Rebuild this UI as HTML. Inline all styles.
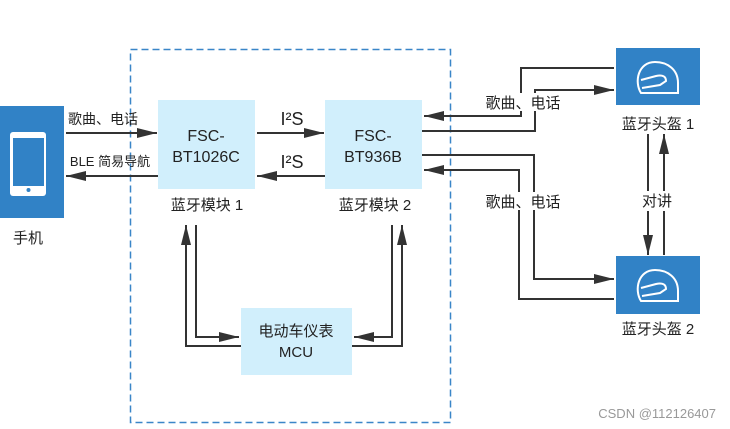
<!DOCTYPE html>
<html><head><meta charset="utf-8"><style>
html,body{margin:0;padding:0;background:#fff;}
svg{display:block;}
text{font-family:"Liberation Sans","Noto Sans CJK SC",sans-serif;fill:#222;}
</style></head><body>
<svg width="730" height="429" viewBox="0 0 730 429" xmlns="http://www.w3.org/2000/svg">
<defs>
<marker id="b" markerWidth="20" markerHeight="10" refX="20" refY="5" orient="auto" markerUnits="userSpaceOnUse">
<path d="M0,0 L20,5 L0,10 z" fill="#333"/></marker>
</defs>
<rect x="130.5" y="49.5" width="320" height="373" fill="none" stroke="#3a86c8" stroke-width="1.5" stroke-dasharray="7,4"/>
<rect x="0" y="106" width="64" height="112" fill="#3182c6"/>
<rect x="10" y="132" width="36" height="64" rx="3" fill="#fff"/>
<rect x="13" y="138" width="31" height="48" fill="#3182c6"/>
<circle cx="28.5" cy="190" r="2" fill="#3182c6"/>
<text x="28" y="243" font-size="15" text-anchor="middle">手机</text>
<rect x="158" y="100" width="97" height="89" fill="#d1effc"/>
<text x="206" y="141" font-size="16" text-anchor="middle">FSC-</text>
<text x="206" y="162" font-size="16" text-anchor="middle">BT1026C</text>
<text x="207" y="210" font-size="15" text-anchor="middle">蓝牙模块 1</text>
<rect x="325" y="100" width="97" height="89" fill="#d1effc"/>
<text x="373" y="141" font-size="16" text-anchor="middle">FSC-</text>
<text x="373" y="162" font-size="16" text-anchor="middle">BT936B</text>
<text x="375" y="210" font-size="15" text-anchor="middle">蓝牙模块 2</text>
<rect x="241" y="308" width="111" height="67" fill="#d1effc"/>
<text x="296" y="336" font-size="15" text-anchor="middle">电动车仪表</text>
<text x="296" y="357" font-size="15" text-anchor="middle">MCU</text>
<rect x="616" y="48" width="84" height="57" fill="#3182c6"/>
<path d="M641,93 C634,82 638,62 655,62 C668,62 678,70 678,83 L678,93 Z M641,80 L656,76 Q666,74 666,81 L660,85 L642,88" fill="none" stroke="#fff" stroke-width="2"/>
<text x="658" y="129" font-size="15" text-anchor="middle">蓝牙头盔 1</text>
<rect x="616" y="256" width="84" height="58" fill="#3182c6"/>
<path d="M641,301 C634,290 638,270 655,270 C668,270 678,278 678,291 L678,301 Z M641,288 L656,284 Q666,282 666,289 L660,293 L642,296" fill="none" stroke="#fff" stroke-width="2"/>
<text x="658" y="334" font-size="15" text-anchor="middle">蓝牙头盔 2</text>
<g stroke="#333" stroke-width="2" fill="none">
<line x1="66" y1="133" x2="157" y2="133" marker-end="url(#b)"/>
<line x1="158" y1="176" x2="66" y2="176" marker-end="url(#b)"/>
<line x1="257" y1="133" x2="324" y2="133" marker-end="url(#b)"/>
<line x1="325" y1="176" x2="257" y2="176" marker-end="url(#b)"/>
<polyline points="614,68 521,68 521,116 424,116" marker-end="url(#b)"/>
<polyline points="422,131 535,131 535,90 614,90" marker-end="url(#b)"/>
<polyline points="422,155 534,155 534,279 614,279" marker-end="url(#b)"/>
<polyline points="614,299 519,299 519,170 424,170" marker-end="url(#b)"/>
<line x1="648" y1="134" x2="648" y2="255" marker-end="url(#b)"/>
<line x1="664" y1="255" x2="664" y2="134" marker-end="url(#b)"/>
<polyline points="241,346 186,346 186,225" marker-end="url(#b)"/>
<polyline points="196,225 196,337 239,337" marker-end="url(#b)"/>
<polyline points="392,225 392,337 354,337" marker-end="url(#b)"/>
<polyline points="352,346 402,346 402,225" marker-end="url(#b)"/>
</g>
<rect x="484" y="93" width="76" height="18" fill="#fff"/>
<rect x="484" y="192" width="76" height="18" fill="#fff"/>
<rect x="640" y="191" width="32" height="20" fill="#fff"/>
<text x="103" y="124" font-size="14" text-anchor="middle">歌曲、电话</text>
<text x="110" y="166" font-size="13" text-anchor="middle">BLE 简易导航</text>
<text x="292" y="125" font-size="18" text-anchor="middle">I²S</text>
<text x="292" y="168" font-size="18" text-anchor="middle">I²S</text>
<text x="523" y="108" font-size="15" text-anchor="middle">歌曲、电话</text>
<text x="523" y="207" font-size="15" text-anchor="middle">歌曲、电话</text>
<text x="657" y="206" font-size="15" text-anchor="middle">对讲</text>
<text x="716" y="418" font-size="13" text-anchor="end" style="fill:#999">CSDN @112126407</text>
</svg>
</body></html>
